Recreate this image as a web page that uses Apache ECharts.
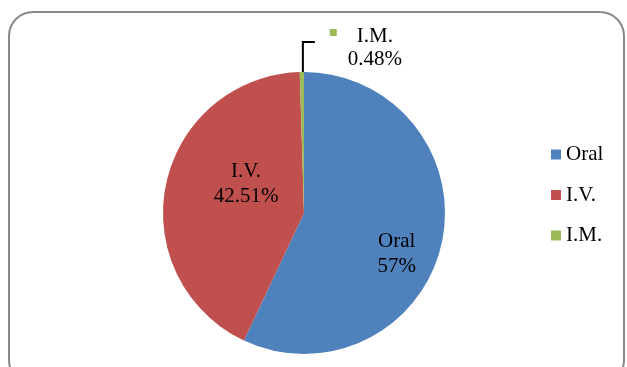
<!DOCTYPE html>
<html>
<head>
<meta charset="utf-8">
<script src="https://cdn.jsdelivr.net/npm/echarts@6/dist/echarts.min.js"></script>
<style>
  html, body { margin: 0; padding: 0; background: #fff; }
  #chart { width: 627px; height: 367px; }
</style>
</head>
<body>
<div id="chart"></div>
<script>
// Routes of administration and their share (%)
const categories = ['Oral', 'I.V.', 'I.M.'];
const shares = [57, 42.51, 0.48];
const shareLabels = ['57%', '42.51%', '0.48%'];
const colors = ['#4f81bd', '#c0504d', '#9bbb59'];

const FONT = '"Liberation Serif", "Times New Roman", serif';
const FONT_SIZE = 21;

const data = categories.map((name, i) => ({
  name: name,
  value: shares[i],
  itemStyle: { color: colors[i] }
}));

// Small slice gets an outside callout: a colour key to the left of a
// centred two-line text block (the trailing pad balances the key).
const KEY = 7, KEY_GAP = 20;
data[2].label = {
  position: 'outside',
  align: 'center',
  formatter: '{sq|}{gap|}{t1|' + categories[2] + '}{pad|}\n{t2|' + shareLabels[2] + '}',
  rich: {
    sq: { width: KEY, height: KEY, backgroundColor: colors[2], verticalAlign: 'top', lineHeight: 14 },
    gap: { width: KEY_GAP, lineHeight: 14 },
    pad: { width: KEY + KEY_GAP, lineHeight: 14 },
    t1: { fontFamily: FONT, fontSize: FONT_SIZE, lineHeight: 14, color: '#000' },
    t2: { fontFamily: FONT, fontSize: FONT_SIZE, lineHeight: 32, color: '#000' }
  }
};
data[2].labelLine = { show: true, lineStyle: { color: '#000', width: 2 } };

const chart = echarts.init(document.getElementById('chart'));
chart.setOption({
  animation: false,
  backgroundColor: '#fff',
  graphic: [{
    type: 'rect',
    shape: { x: 9, y: 12, width: 615, height: 372, r: 24 },
    style: { fill: 'none', stroke: '#898989', lineWidth: 2 },
    silent: true,
    z: -1
  }],
  legend: {
    orient: 'vertical',
    left: 551,
    top: 144,
    padding: 0,
    itemWidth: 10,
    itemHeight: 10,
    itemGap: 19.5,
    icon: 'rect',
    data: categories,
    textStyle: { fontFamily: FONT, fontSize: FONT_SIZE, lineHeight: 20, color: '#000' }
  },
  series: [{
    type: 'pie',
    center: [304, 213],
    radius: 141,
    startAngle: 90,
    clockwise: true,
    data: data,
    label: {
      position: 'inside',
      fontFamily: FONT,
      fontSize: FONT_SIZE,
      lineHeight: 25,
      color: '#000',
      formatter: p => p.name + '\n' + shareLabels[p.dataIndex]
    },
    labelLine: { show: false },
    labelLayout: function (params) {
      if (params.dataIndex === 0) return { dx: 21, dy: 25 };
      if (params.dataIndex === 1) return { dx: 14, dy: -14 };
      const pts = params.labelLinePoints;
      if (!pts) return {};
      const s = pts[0];
      const start = [s[0] + 1, s[1]];
      const elbow = [start[0], start[1] - 30];
      return {
        x: s[0] + 73,
        y: s[1] - 43,
        align: 'center',
        verticalAlign: 'top',
        labelLinePoints: [start, elbow, [elbow[0] + 12, elbow[1]]]
      };
    },
    emphasis: { disabled: true }
  }]
});
</script>
</body>
</html>
